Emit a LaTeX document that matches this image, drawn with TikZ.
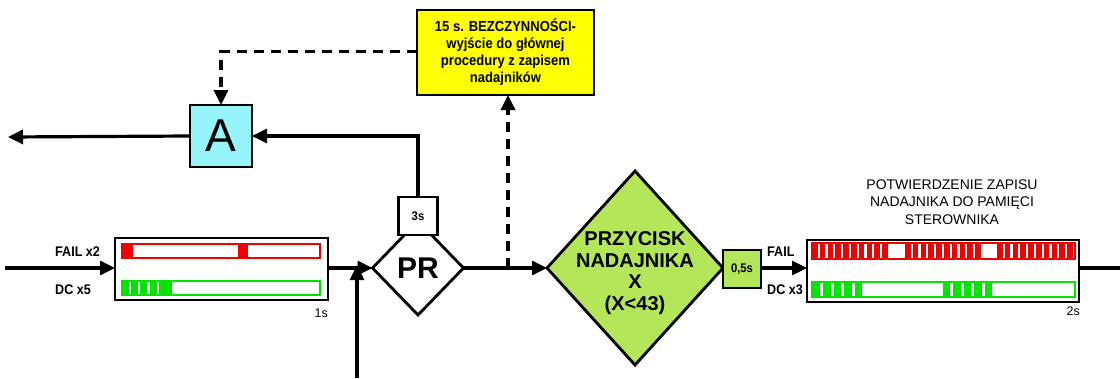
\documentclass[tikz,border=0pt]{standalone}
\usepackage{fontspec}
\setmainfont{Liberation Sans}
\newfontfamily\narrowsf{Liberation Sans}[FakeStretch=0.9]
\usetikzlibrary{shapes.geometric,arrows.meta}
\definecolor{lgreen}{RGB}{180,230,90}
\definecolor{acyan}{RGB}{150,245,250}
\definecolor{byellow}{RGB}{255,255,0}
\definecolor{bred}{RGB}{240,0,0}
\definecolor{bgreen}{RGB}{0,230,0}
\tikzset{
  arr/.style={-{Triangle[length=15pt,width=14pt]}, line width=3.2pt},
  plain/.style={line width=3.2pt},
  dasharr/.style={-{Triangle[length=15pt,width=14pt]}, line width=3.4pt, dash pattern=on 10pt off 7pt},
  blinkbox/.style={draw, line width=2.4pt, rectangle, inner sep=0pt, outer sep=0pt},
  sqbox/.style={draw, line width=2.4pt, rectangle, inner sep=0pt, outer sep=0pt, font=\narrowsf\bfseries\fontsize{12.5}{14}\selectfont},
  dia/.style={draw, line width=2.8pt, diamond, inner sep=0pt, outer sep=0pt},
  lbl/.style={inner sep=0pt, font=\narrowsf\bfseries\fontsize{14}{16}\selectfont},
  tm/.style={inner sep=0pt, font=\fontsize{12.5}{14}\selectfont},
}
\begin{document}
\begin{tikzpicture}[x=1pt,y=-1pt]
\useasboundingbox (0,0) rectangle (1120,378);

% boxes
\node[blinkbox, minimum width=213pt, minimum height=62pt] (lb) at (221.5,269) {};
\node[blinkbox, minimum width=272pt, minimum height=62pt] (rb) at (943,271) {};

% left blink bars
\draw[bred, line width=1.5pt] (122,244) rectangle (320,258);
\fill[bred] (122,244) rectangle (133,258);
\fill[bred] (238,244) rectangle (248,258);
\draw[bgreen, line width=1.5pt] (122,281) rectangle (320,295);
\foreach \a/\b in {122/128.5,131/137.5,140/146.5,150/156.5,159/172}
  \fill[bgreen] (\a,281) rectangle (\b,295);

% right blink bars
\draw[bred, line width=1.5pt] (812,243) rectangle (1075,259);
\foreach \s in {812,905,997}
  \foreach \i in {0,...,9}
    \fill[bred] ({\s+\i*7.8},243) rectangle ++(5.6,16);
\draw[bgreen, line width=1.5pt] (812,282) rectangle (1075,297);
\foreach \s in {813,943}
  \foreach \i in {0,...,4}
    \fill[bgreen] ({\s+\i*10.4},282) rectangle ++(7.4,15);

% diamonds
\node[dia, fill=white, minimum width=91pt, minimum height=94pt,
      font=\bfseries\fontsize{30}{32}\selectfont] (pr) at (418,268) {PR};
\node[sqbox, fill=white, minimum width=39pt, minimum height=38pt] (t3) at (418,216) {3s};
\node[dia, fill=lgreen, minimum width=176pt, minimum height=194pt] (gd) at (635,268) {};
\node[inner sep=0pt, align=center, font=\bfseries\fontsize{20}{21.5}\selectfont] (gdt) at (635,273)
  {PRZYCISK\\NADAJNIKA\\X\\(X<43)};
\node[sqbox, fill=lgreen, minimum width=38pt, minimum height=38pt] (t05) at (742,269) {0,5s};

% A box and yellow note
\node[draw, line width=2.4pt, fill=acyan, minimum width=62pt, minimum height=62pt, inner sep=0pt, outer sep=0pt,
      font=\fontsize{46}{46}\selectfont] (A) at (221,136) {A};
\node[draw, line width=1.8pt, fill=byellow, minimum width=177pt, minimum height=85pt, inner sep=0pt, outer sep=0pt,
      align=center, font=\narrowsf\bfseries\fontsize{14.5}{17}\selectfont] (yb) at (505.5,52.5)
  {15 s. BEZCZYNNOŚCI-\\wyjście do głównej\\procedury z zapisem\\nadajników};

% coordinates
\coordinate (inL) at (5,268);
\coordinate (jn) at (357,268);
\coordinate (bot) at (357,378);
\coordinate (outL) at (8,137);
\coordinate (outR) at (1120,268);
\coordinate (ds) at (508,268);

% connectors
\draw[arr] (inL) -- (inL -| lb.west);
\draw[arr] (lb.east |- jn) -- (pr.west);
\draw[arr] (bot) -- ([yshift=3pt]jn);
\draw[arr] (pr.east) -- (gd.west);
\draw[arr] (t3.north) |- (A.east);
\draw[arr] (A.west) -- (outL);
\draw[dasharr] ([yshift=1pt]yb.west) -| (A.north);
\draw[dasharr] (ds) -- (ds |- yb.south);
\draw[arr] (t05.east |- 0,268) -- (rb.west |- 0,268);
\draw[plain] (rb.east |- 0,268) -- (outR);

% labels
\node[lbl, anchor=west] (f2) at (55,252) {FAIL x2};
\node[lbl, anchor=west] (d5) at (55,290) {DC x5};
\node[tm, anchor=east] (s1) at (328,313) {1s};
\node[lbl, anchor=west] (f1) at (767,252) {FAIL};
\node[lbl, anchor=west] (d3) at (767,290) {DC x3};
\node[tm, anchor=east] (s2) at (1080,311) {2s};
\node[inner sep=0pt, align=center, font=\fontsize{14}{17.5}\selectfont] (tt) at (952,202)
  {POTWIERDZENIE ZAPISU\\NADAJNIKA DO PAMIĘCI\\STEROWNIKA};
\end{tikzpicture}
\end{document}
